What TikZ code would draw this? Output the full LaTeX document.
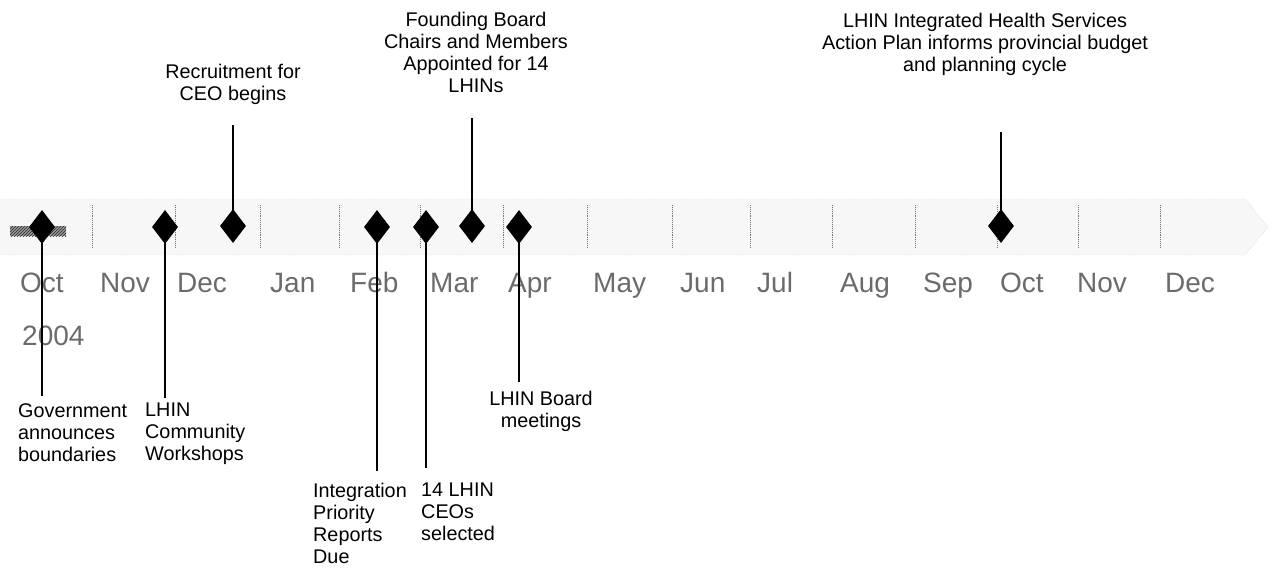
\documentclass[tikz,border=0pt]{standalone}
\usepackage{fontspec}
\setmainfont{Liberation Sans}
\usetikzlibrary{shapes.geometric,patterns}
\begin{document}
\begin{tikzpicture}[x=1pt,y=-1pt,
  milestone/.style={diamond, fill=black, draw=none, minimum width=26pt, minimum height=34pt, inner sep=0pt},
  lbl/.style={font=\fontsize{19.8}{22}\selectfont, inner sep=0pt},
  month/.style={font=\fontsize{28}{30}\selectfont, text=black!58, inner sep=0pt, anchor=base west},
  divider/.style={densely dotted, black!55, line width=0.9pt},
  stem/.style={line width=1.6pt}]
\useasboundingbox (0,0) rectangle (1274,581);
% band
\fill[black!3] (0,199) -- (1245,199) -- (1268,227) -- (1245,255) -- (0,255) -- cycle;
\draw[black!22, densely dotted] (0,199) -- (1245,199) -- (1268,227) -- (1245,255) -- (0,255);
\foreach \x in {92,175,260,339,420,503,587,672,750,832,915,997,1078,1160}
  \draw[divider] (\x,205) -- (\x,248);
% hatched bar
\fill[black!40] (10,226) rectangle (66,236);
\fill[pattern=north east lines, pattern color=black!85] (10,226) rectangle (66,236);
% months
\foreach \x/\m in {20/Oct,100/Nov,177/Dec,270/Jan,350/Feb,430/Mar,508/Apr,593/May,680/Jun,757/Jul,840/Aug,923/Sep,1000/Oct,1077/Nov,1165/Dec}
  \node[month] (m\x) at (\x,292) {\m};
\node[month] (year) at (22,345) {2004};
% milestones
\node[milestone] (d1) at (42,227) {};
\node[milestone] (d2) at (165,227) {};
\node[milestone] (d3) at (233,226) {};
\node[milestone] (d4) at (377,227) {};
\node[milestone] (d5) at (426,227) {};
\node[milestone] (d6) at (472,226) {};
\node[milestone] (d7) at (519,227) {};
\node[milestone] (d8) at (1001,226) {};
% labels
\node[lbl, anchor=north west, align=left] (t1) at (18,403) {Government\\announces\\boundaries};
\node[lbl, anchor=north west, align=left] (t2) at (145,403) {LHIN\\Community\\Workshops};
\node[lbl, anchor=north, align=center] (t3) at (233,64) {Recruitment for\\CEO begins};
\node[lbl, anchor=north west, align=left] (t4) at (313,483) {Integration\\Priority\\Reports\\Due};
\node[lbl, anchor=north west, align=left] (t5) at (421,483) {14 LHIN\\CEOs\\selected};
\node[lbl, anchor=north, align=center] (t6) at (476,12) {Founding Board\\Chairs and Members\\Appointed for 14\\LHINs};
\node[lbl, anchor=north, align=center] (t7) at (541,391) {LHIN Board\\meetings};
\node[lbl, anchor=north, align=center] (t8) at (985,13) {LHIN Integrated Health Services\\Action Plan informs provincial budget\\and planning cycle};
% stem ends
\coordinate (e1) at (42,396);
\coordinate (e2) at (165,398);
\coordinate (e3) at (233,125);
\coordinate (e4) at (377,471);
\coordinate (e5) at (426,468);
\coordinate (e6) at (472,118);
\coordinate (e7) at (519,382);
\coordinate (e8) at (1001,132);
\draw[stem] (d1.center) -- (e1);
\draw[stem] (d2.center) -- (e2);
\draw[stem] (d3.center) -- (e3);
\draw[stem] (d4.center) -- (e4);
\draw[stem] (d5.center) -- (e5);
\draw[stem] (d6.center) -- (e6);
\draw[stem] (d7.center) -- (e7);
\draw[stem] (d8.center) -- (e8);
\end{tikzpicture}
\end{document}
